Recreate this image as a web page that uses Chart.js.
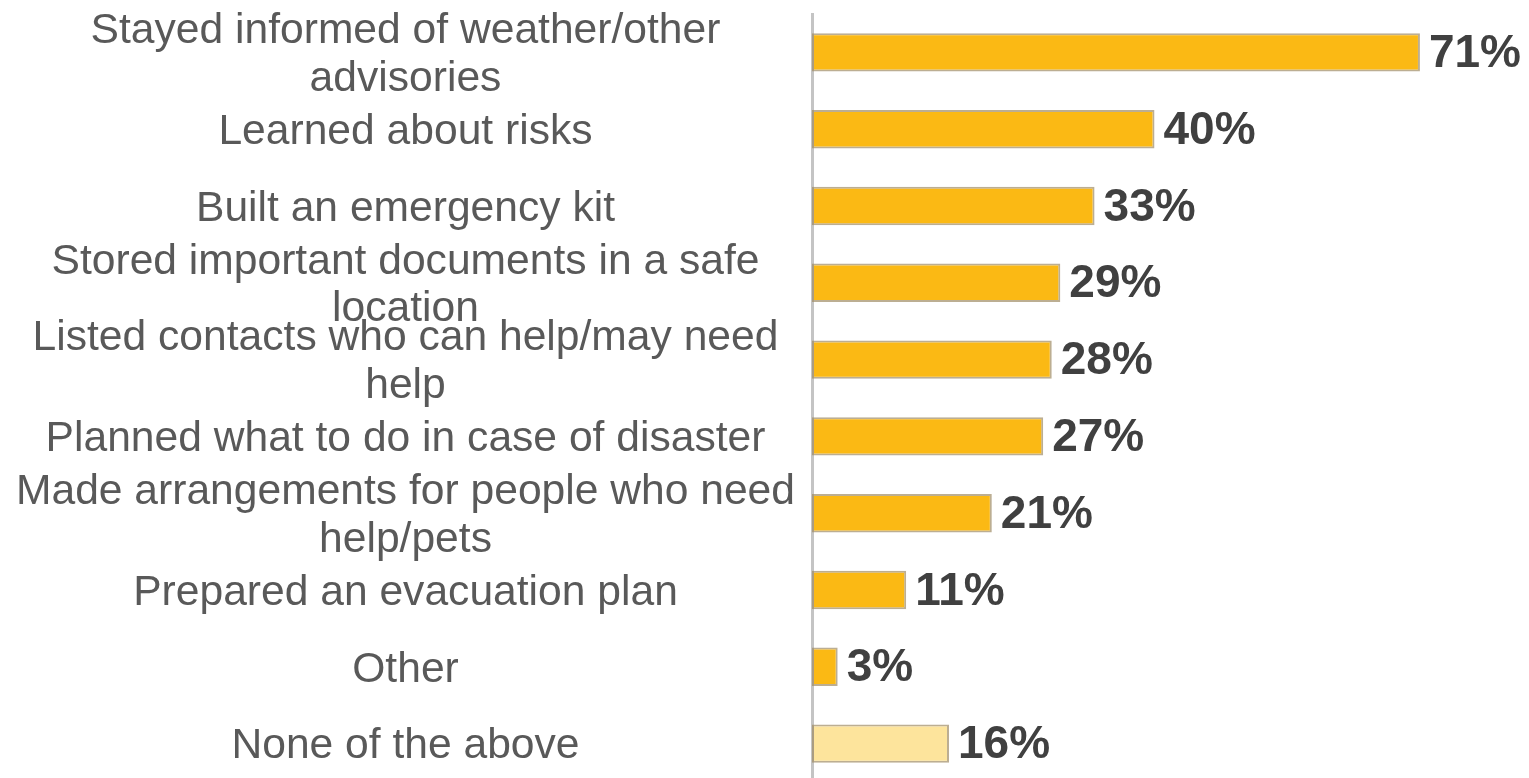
<!DOCTYPE html>
<html lang="en">
<head>
    <meta charset="UTF-8">
    <title>Preparedness actions</title>
    <style>
        body { margin: 0; background-color: white; overflow: hidden; }
    </style>
    <script src="https://cdn.jsdelivr.net/npm/chart.js"></script>
</head>
<body>
    <canvas id="prepChart" width="1529" height="782"></canvas>

    <script>
        // Categories (multi-line as in the source)
        const categories = [
            ['Stayed informed of weather/other', 'advisories'],
            'Learned about risks',
            'Built an emergency kit',
            ['Stored important documents in a safe', 'location'],
            ['Listed contacts who can help/may need', 'help'],
            'Planned what to do in case of disaster',
            ['Made arrangements for people who need', 'help/pets'],
            'Prepared an evacuation plan',
            'Other',
            'None of the above'
        ];
        const percents = [71, 40, 33, 29, 28, 27, 21, 11, 3, 16];
        const barColors = ['#FBB914', '#FBB914', '#FBB914', '#FBB914', '#FBB914',
                           '#FBB914', '#FBB914', '#FBB914', '#FBB914', '#FDE49C'];

        // draw the % value at the end of each bar
        const valueLabels = {
            id: 'valueLabels',
            afterDatasetsDraw(chart) {
                const ctx = chart.ctx;
                ctx.save();
                ctx.font = 'bold 46px "Liberation Sans", Arial, sans-serif';
                ctx.fillStyle = '#404040';
                ctx.textAlign = 'left';
                ctx.textBaseline = 'middle';
                chart.getDatasetMeta(0).data.forEach((bar, i) => {
                    ctx.fillText(percents[i] + '%', bar.x + 9, bar.y + 2);
                });
                ctx.restore();
            }
        };

        new Chart(document.getElementById('prepChart'), {
            type: 'bar',
            data: {
                labels: categories,
                datasets: [{
                    data: percents,
                    backgroundColor: barColors,
                    borderColor: 'rgba(160,140,100,0.7)',
                    borderWidth: 2,
                    borderSkipped: false,
                    barPercentage: 0.5,
                    categoryPercentage: 1
                }]
            },
            options: {
                indexAxis: 'y',
                responsive: false,
                animation: false,
                devicePixelRatio: 1,
                layout: { padding: { top: 14, right: 32, bottom: 0, left: 0 } },
                plugins: {
                    legend: { display: false },
                    tooltip: { enabled: false }
                },
                scales: {
                    x: { display: false, min: 0, max: 80 },
                    y: {
                        grid: { display: false, drawTicks: false },
                        border: { display: true, color: '#c4c4c4', width: 3 },
                        afterFit: (scale) => {
                            scale.width = 812;
                            scale.paddingTop = 0;
                            scale.paddingBottom = 0;
                        },
                        ticks: {
                            autoSkip: false,
                            crossAlign: 'center',
                            padding: 17,
                            labelOffset: 3,
                            color: '#595959',
                            font: { family: '"Liberation Sans", Arial, sans-serif', size: 42.6, lineHeight: 1.12 }
                        }
                    }
                }
            },
            plugins: [valueLabels]
        });
    </script>
</body>
</html>
